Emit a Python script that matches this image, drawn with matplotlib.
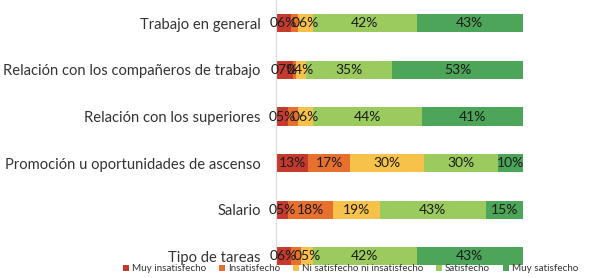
import matplotlib

matplotlib.use("Agg")

import matplotlib.pyplot as plt
import numpy as np

plt.rcParams["font.family"] = ["Lato", "DejaVu Sans"]

categories = [
    "Trabajo en general",
    "Relación con los compañeros de trabajo",
    "Relación con los superiores",
    "Promoción u oportunidades de ascenso",
    "Salario",
    "Tipo de tareas",
]
series_names = [
    "Muy insatisfecho",
    "Insatisfecho",
    "Ni satisfecho ni insatisfecho",
    "Satisfecho",
    "Muy satisfecho",
]
muy_insatisfecho = [6, 7, 5, 13, 5, 6]
insatisfecho = [3, 1, 4, 17, 18, 4]
ni_ni = [6, 4, 6, 30, 19, 5]
satisfecho = [42, 35, 44, 30, 43, 42]
muy_satisfecho = [43, 53, 41, 10, 15, 43]

COLORS = ["#C53A2E", "#E8702F", "#F6C24A", "#9BCB5E", "#4CA558"]

values = np.array([muy_insatisfecho, insatisfecho, ni_ni, satisfecho, muy_satisfecho], dtype=float)

fig = plt.figure(figsize=(5.89, 2.78), dpi=100)
ax = fig.add_axes([276 / 589, 10 / 278, (523 - 276) / 589, 268 / 278])

y = np.arange(len(categories))
left = np.zeros(len(categories))
for i, (name, vals) in enumerate(zip(series_names, values)):
    ax.barh(y, vals, left=left, height=0.39, color=COLORS[i], label=name, linewidth=0)
    for j, v in enumerate(vals):
        # small "Insatisfecho" labels are hidden in the original
        if i == 1 and v < 5:
            continue
        ax.text(left[j] + v / 2, y[j], f"{int(v):02d}%", ha="center", va="center",
                fontsize=10, color="#1a1a1a")
    left += vals

ax.set_xlim(0, 100)
ax.set_ylim(5.25, -0.5)
ax.set_yticks(y)
ax.set_yticklabels(categories, fontsize=10.6, color="#333333")
ax.tick_params(axis="y", length=0, pad=11)
ax.set_xticks([])
for side in ("top", "right", "bottom"):
    ax.spines[side].set_visible(False)
ax.spines["left"].set_color("#D9D9D9")
ax.spines["left"].set_linewidth(0.8)

fig.legend(
    loc="lower center",
    bbox_to_anchor=(0.595, -0.015),
    ncol=5,
    frameon=False,
    fontsize=7.1,
    handlelength=0.6,
    handleheight=0.6,
    handletextpad=0.3,
    columnspacing=1.3,
    labelcolor="#333333",
)

fig.savefig("out.png", dpi=100)
